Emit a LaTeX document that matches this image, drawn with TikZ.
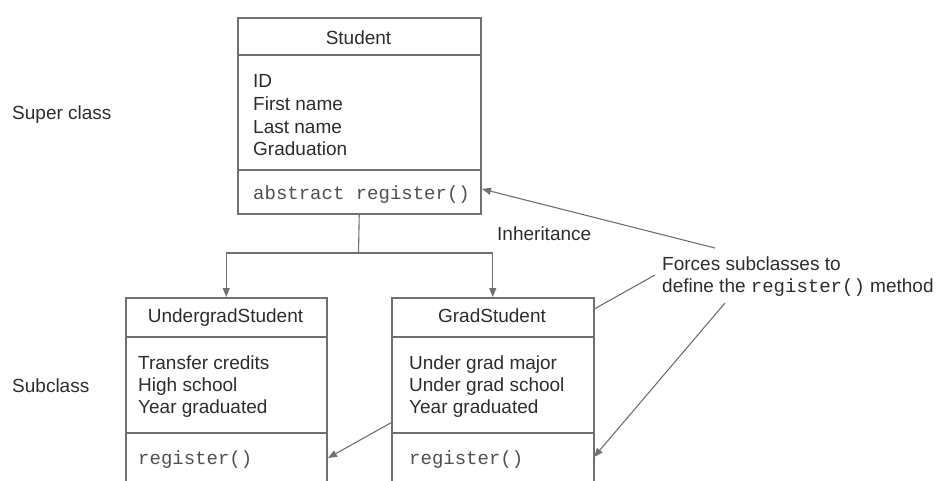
\documentclass[tikz,border=0pt]{standalone}
\usepackage{fontspec}
\setmainfont{Liberation Sans}
\setmonofont{Liberation Mono}
\usetikzlibrary{arrows.meta}
\definecolor{edgegray}{RGB}{112,112,112}
\definecolor{inkgray}{RGB}{45,45,45}
\definecolor{codegray}{RGB}{80,80,80}
\begin{document}
\begin{tikzpicture}[x=1pt,y=-1pt,
  classbox/.style={draw=edgegray, line width=1.5pt, fill=white, inner sep=0pt, anchor=north west},
  divider/.style={draw=edgegray, line width=1.3pt},
  txt/.style={anchor=base west, inner sep=0pt, text=inkgray, font=\fontsize{19}{22}\selectfont},
  title/.style={anchor=base, inner sep=0pt, text=inkgray, font=\fontsize{19}{22}\selectfont},
  code/.style={anchor=base west, inner sep=0pt, text=codegray, font=\fontsize{19}{22}\ttfamily},
  link/.style={draw=edgegray, line width=1.1pt},
  tip/.style={-{Triangle[length=9pt,width=7pt]}}
]
\useasboundingbox (0,0) rectangle (946,480);

% side labels
\node[txt] (superlbl) at (12,119) {Super class};
\node[txt] (sublbl) at (12,392) {Subclass};

% pointer lines from the note (drawn first so the class boxes cover them)
\coordinate (noteA) at (715,248);
\coordinate (noteB) at (655,275);
\coordinate (noteC) at (725,303);
\coordinate (studentM) at (482,189);
\coordinate (ugradM) at (328,458);
\coordinate (gradM) at (594,457);
\draw[link,tip] (noteB) -- (ugradM);

% Student
\node[classbox, minimum width=243pt, minimum height=196pt] (student) at (237,17) {};
\draw[divider] (237,55) -- (480,55);
\draw[divider] (237,170) -- (480,170);
\node[title] (studentT) at (358.5,44) {Student};
\node[txt] (sa1) at (253,87) {ID};
\node[txt] (sa2) at (253,110) {First name};
\node[txt] (sa3) at (253,133) {Last name};
\node[txt] (sa4) at (253,155) {Graduation};
\node[code] (sm) at (253,199) {abstract register()};

% UndergradStudent
\node[classbox, minimum width=201pt, minimum height=190pt] (ugrad) at (125,297) {};
\draw[divider] (125,337) -- (326,337);
\draw[divider] (125,433) -- (326,433);
\node[title] (ugradT) at (225.5,322) {UndergradStudent};
\node[txt] (ua1) at (138,369) {Transfer credits};
\node[txt] (ua2) at (138,391) {High school};
\node[txt] (ua3) at (138,413) {Year graduated};
\node[code] (um) at (138,464) {register()};

% GradStudent
\node[classbox, minimum width=202pt, minimum height=190pt] (grad) at (391,297) {};
\draw[divider] (391,337) -- (593,337);
\draw[divider] (391,433) -- (593,433);
\node[title] (gradT) at (492,322) {GradStudent};
\node[txt] (ga1) at (409,369) {Under grad major};
\node[txt] (ga2) at (409,391) {Under grad school};
\node[txt] (ga3) at (409,413) {Year graduated};
\node[code] (gm) at (409,464) {register()};

% inheritance tree
\coordinate (junction) at (358.5,253);
\draw[link] (student.south) -- (junction);
\draw[link,tip] (junction) -| (ugrad.north);
\draw[link,tip] (junction) -| (grad.north);
\node[txt] (inh) at (497,240) {Inheritance};

% note
\node[txt] (note1) at (662,270) {Forces subclasses to};
\node[txt] (note2) at (662,292) {define the \texttt{register()} method};
\draw[link,tip] (noteA) -- (studentM);
\draw[link,tip] (noteC) -- (gradM);
\end{tikzpicture}
\end{document}
